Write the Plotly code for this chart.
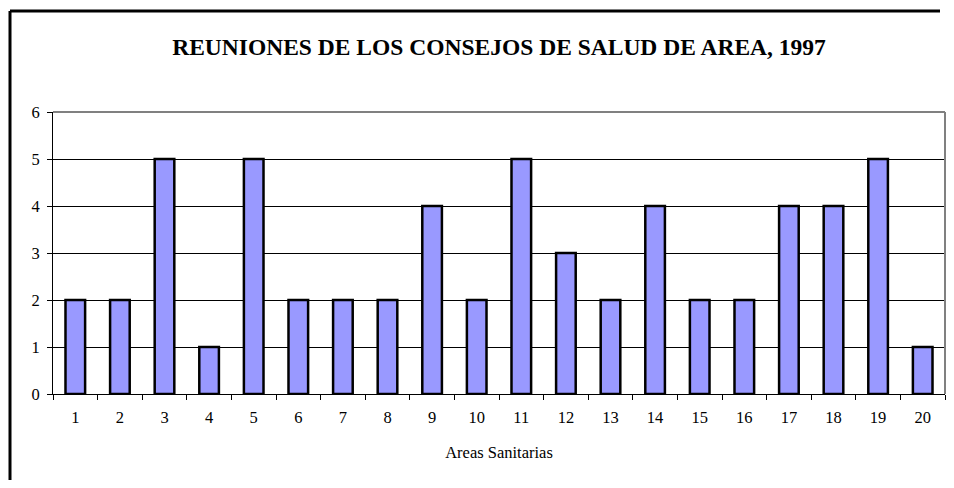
import plotly.graph_objects as go

# Reuniones por area sanitaria
areas = [str(i) for i in range(1, 21)]
reuniones = [2, 2, 5, 1, 5, 2, 2, 2, 4, 2, 5, 3, 2, 4, 2, 2, 4, 4, 5, 1]
y_ticks = [0, 1, 2, 3, 4, 5, 6]

FONT = '"Times New Roman", "Liberation Serif", serif'
BAR_COLOR = '#9999FF'

# the page puts the figure 8px in from the top-left, so work in page pixels
OFF = 8
W, H = 954 - 2 * OFF, 488 - 2 * OFF
M_L, M_T = 53 - OFF, 112 - OFF
M_R = 1
M_B = (488 - OFF) - 394
pw = W - M_L - M_R
ph = H - M_T - M_B


def px_x(p):
    # page pixel -> paper x
    return (p - OFF - M_L) / pw


def px_y(p):
    # page pixel -> paper y
    return (H - M_B - (p - OFF)) / ph


fig = go.Figure(go.Bar(
    x=areas,
    y=reuniones,
    marker=dict(color=BAR_COLOR, line=dict(color='black', width=2.5)),
    hoverinfo='x+y',
))

# outer frame: only top and left edges are visible on the page
fx0, fy0 = px_x(10), px_y(11)
frame_line = dict(color='black', width=3)

fig.update_layout(
    width=W, height=H,
    margin=dict(l=M_L, r=M_R, t=M_T, b=M_B),
    paper_bgcolor='white',
    plot_bgcolor='white',
    font=dict(family=FONT, color='black', size=16),
    bargap=0.56,
    showlegend=False,
    title=dict(
        text='<b>REUNIONES DE LOS CONSEJOS DE SALUD DE AREA, 1997</b>',
        x=0.5, xref='paper', xanchor='center',
        y=1 - (47 - OFF) / H, yanchor='middle',
        font=dict(family=FONT, size=23.5, color='black'),
    ),
    shapes=[
        dict(type='line', xref='paper', yref='paper',
             x0=fx0, x1=px_x(940), y0=fy0, y1=fy0, line=frame_line),
        dict(type='line', xref='paper', yref='paper',
             x0=fx0, x1=fx0, y0=fy0, y1=px_y(OFF + H), line=frame_line),
        # gray plot-area border, top and right
        dict(type='line', xref='paper', yref='paper', x0=0, x1=1, y0=1, y1=1,
             line=dict(color='#808080', width=2)),
        dict(type='line', xref='paper', yref='paper', x0=1, x1=1, y0=0, y1=1,
             line=dict(color='#808080', width=2)),
    ],
)

fig.update_xaxes(
    type='category',
    tickson='boundaries',
    ticks='outside', ticklen=5, tickcolor='black', tickwidth=1,
    ticklabelstandoff=8,
    showline=True, linecolor='black', linewidth=1,
    showgrid=False,
    tickfont=dict(family=FONT, size=16.5),
    title=dict(text='Areas Sanitarias', font=dict(family=FONT, size=16.5), standoff=20),
)
fig.update_yaxes(
    range=[0, 6],
    tickvals=y_ticks,
    ticks='outside', ticklen=5, tickcolor='black', tickwidth=1,
    ticklabelstandoff=4,
    showline=True, linecolor='black', linewidth=1,
    showgrid=True, gridcolor='black', gridwidth=1,
    zeroline=False,
    tickfont=dict(family=FONT, size=16.5),
)

fig.write_html('out.html', config={'displayModeBar': False})
